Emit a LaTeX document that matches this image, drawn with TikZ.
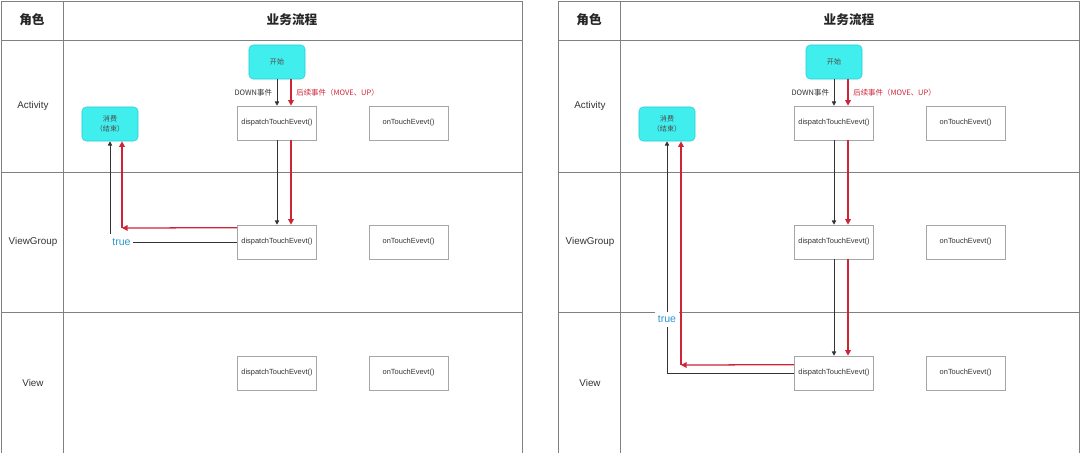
\documentclass[tikz,border=0pt]{standalone}
\usepackage{fontspec}
\setmainfont{Liberation Sans}
\newfontfamily\cjk{Noto Sans CJK SC}
\usepackage{tikz}
\usetikzlibrary{arrows.meta,positioning}

\definecolor{termcyan}{RGB}{64,238,238}
\definecolor{termline}{RGB}{40,205,215}
\definecolor{backred}{RGB}{206,36,56}
\definecolor{truecol}{RGB}{45,150,205}
\definecolor{gridgray}{RGB}{128,128,128}

\begin{document}
\begin{tikzpicture}[
  x=0.025cm, y=-0.025cm,
  font=\fontsize{5.3}{6.5}\selectfont,
  func/.style={draw=black!35, minimum width=1.975cm, minimum height=0.85cm, inner sep=1pt, align=center, text=black!80},
  term/.style={draw=termline, fill=termcyan, rounded corners=3pt, minimum width=1.4cm, minimum height=0.85cm, align=center, font=\cjk\fontsize{5}{7}\selectfont, text=black!70},
  role/.style={font=\fontsize{7}{8}\selectfont, text=black!80},
  head/.style={font=\cjk\bfseries\fontsize{9}{10}\selectfont, text=black!85},
  evlabel/.style={font=\cjk\fontsize{5.3}{6.5}\selectfont},
  truelabel/.style={fill=white, inner xsep=2pt, inner ysep=3pt, text=truecol, font=\fontsize{7.5}{8}\selectfont},
  down/.style={-{Triangle[length=3pt,width=3pt]}, draw=black!80, line width=0.5pt},
  back/.style={-{Triangle[length=4pt,width=4pt]}, draw=backred, line width=0.9pt},
  grid/.style={draw=gridgray, line width=0.5pt}
]
\useasboundingbox (0,0) rectangle (1080,453);

% left panel: table
\draw[grid] (1,1) rectangle (522,470);
\draw[grid] (63,1) -- (63,470);
\draw[grid] (1,40) -- (522,40);
\draw[grid] (1,172) -- (522,172);
\draw[grid] (1,312) -- (522,312);

\node[head] (Lrolehd) at (32,20) {角色};
\node[head] (Lflowhd) at (292,20) {业务流程};
\node[role] (Lact) at (33,106) {Activity};
\node[role] (Lvg) at (33,242) {ViewGroup};
\node[role] (Lview) at (33,383) {View};

\node[term] (Lstart) at (277,62) {开始};
\node[term] (Lconsume) at (110,124) {消费\\（结束）};
\node[func] (Ladisp) at (277,123) {dispatchTouchEvevt()};
\node[func, right=1.3cm of Ladisp] (Laon) {onTouchEvevt()};
\node[func] (Lvgdisp) at (277,242) {dispatchTouchEvevt()};
\node[func, right=1.3cm of Lvgdisp] (Lvgon) {onTouchEvevt()};
\node[func] (Lvdisp) at (277,373) {dispatchTouchEvevt()};
\node[func, right=1.3cm of Lvdisp] (Lvon) {onTouchEvevt()};
\coordinate (Lturn) at (122,228);

\draw[down] (Lstart) -- node[left, evlabel, text=black!80]{DOWN事件} (Ladisp);
\draw[down] (Ladisp) -- (Lvgdisp);
\draw[down] (Lvgdisp.west) -| node[pos=0.455, truelabel]{true} (Lconsume.south);
\draw[back] ([xshift=0.35cm]Lstart.south) -- node[right, evlabel, text=backred]{后续事件（MOVE、UP）} ([xshift=0.35cm]Ladisp.north);
\draw[back] ([xshift=0.35cm]Ladisp.south) -- ([xshift=0.35cm]Lvgdisp.north);
\draw[back] ([yshift=-0.075cm]Lvgdisp.north west) -- (Lturn);
\draw[back] (Lturn) -- (Lturn |- Lconsume.south);

% right panel: table
\draw[grid] (558,1) rectangle (1079,470);
\draw[grid] (620,1) -- (620,470);
\draw[grid] (558,40) -- (1079,40);
\draw[grid] (558,172) -- (1079,172);
\draw[grid] (558,312) -- (1079,312);

\node[head] (Rrolehd) at (589,20) {角色};
\node[head] (Rflowhd) at (849,20) {业务流程};
\node[role] (Ract) at (590,106) {Activity};
\node[role] (Rvg) at (590,242) {ViewGroup};
\node[role] (Rview) at (590,383) {View};

\node[term] (Rstart) at (834,62) {开始};
\node[term] (Rconsume) at (667,124) {消费\\（结束）};
\node[func] (Radisp) at (834,123) {dispatchTouchEvevt()};
\node[func, right=1.3cm of Radisp] (Raon) {onTouchEvevt()};
\node[func] (Rvgdisp) at (834,242) {dispatchTouchEvevt()};
\node[func, right=1.3cm of Rvgdisp] (Rvgon) {onTouchEvevt()};
\node[func] (Rvdisp) at (834,373) {dispatchTouchEvevt()};
\node[func, right=1.3cm of Rvdisp] (Rvon) {onTouchEvevt()};
\coordinate (Rturn) at (681,365);

\draw[down] (Rstart) -- node[left, evlabel, text=black!80]{DOWN事件} (Radisp);
\draw[down] (Radisp) -- (Rvgdisp);
\draw[down] (Rvgdisp) -- (Rvdisp);
\draw[down] (Rvdisp.west) -| node[pos=0.616, truelabel]{true} (Rconsume.south);
\draw[back] ([xshift=0.35cm]Rstart.south) -- node[right, evlabel, text=backred]{后续事件（MOVE、UP）} ([xshift=0.35cm]Radisp.north);
\draw[back] ([xshift=0.35cm]Radisp.south) -- ([xshift=0.35cm]Rvgdisp.north);
\draw[back] ([xshift=0.35cm]Rvgdisp.south) -- ([xshift=0.35cm]Rvdisp.north);
\draw[back] ([yshift=-0.225cm]Rvdisp.north west) -- (Rturn);
\draw[back] (Rturn) -- (Rturn |- Rconsume.south);
\end{tikzpicture}
\end{document}
